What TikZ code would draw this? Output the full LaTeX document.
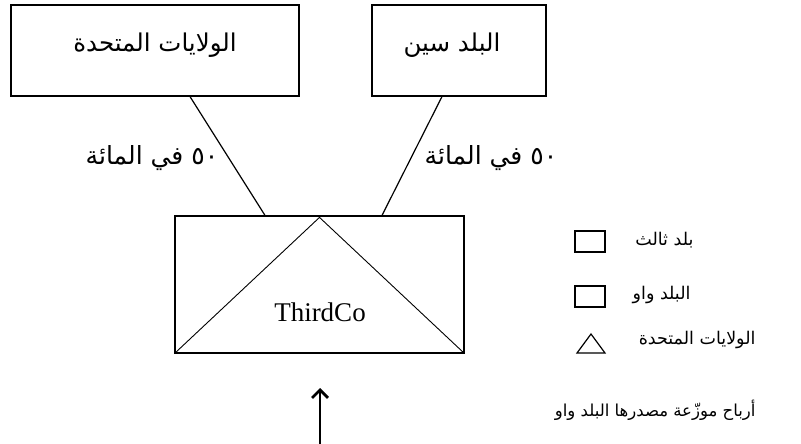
\documentclass[tikz,border=0pt]{standalone}
\usepackage{fontspec}
\usetikzlibrary{arrows.meta}
\setmainfont{Liberation Serif}
\newfontfamily\arabicfont[Script=Arabic]{DejaVu Sans}
\TeXXeTstate=1
\begin{document}
\begin{tikzpicture}[x=1pt,y=-1pt,
  box/.style={draw,line width=1.2pt,inner sep=0pt},
  arbig/.style={font=\arabicfont\fontsize{24.5}{28}\selectfont},
  arpct/.style={font=\arabicfont\fontsize{25}{28}\selectfont},
  ar/.style={font=\arabicfont\fontsize{17.5}{21}\selectfont},
  conn/.style={line width=1.2pt},
  lg/.style={line width=1.2pt}]
\useasboundingbox (0,0) rectangle (801,444);
\node[box,minimum width=288pt,minimum height=91pt] (us) at (155,50.5) {};
\node[arbig] (ustxt) at (155,45) {\beginR الولايات المتحدة\endR};
\node[box,minimum width=174pt,minimum height=91pt] (cx) at (459,50.5) {};
\node[arbig] (cxtxt) at (452,45) {\beginR البلد سين\endR};
\node[box,minimum width=289pt,minimum height=137pt] (tc) at (319.5,284.5) {};
\node[font=\fontsize{27}{30}\selectfont] (tctxt) at (320,312) {ThirdCo};
\draw[line width=0.9pt] (tc.south west) -- ([yshift=-2pt]tc.north) -- (tc.south east);
\draw[conn] ([xshift=35pt]us.south) -- ([xshift=-54.5pt]tc.north);
\draw[conn] ([xshift=-17pt]cx.south) -- ([xshift=62.5pt]tc.north);
\node[arpct] (p1) at (152,158) {\beginR ٥٠ في المائة\endR};
\node[arpct] (p2) at (491,158) {\beginR ٥٠ في المائة\endR};
% legend
\draw[lg] (575,231) rectangle (605,252);
\draw[lg] (575,286) rectangle (605,307);
\draw[lg] (577,353) -- (591,334) -- (605,353) -- cycle;
\node[ar,anchor=east] (l1) at (697,240) {\beginR بلد ثالث\endR};
\node[ar,anchor=east] (l2) at (694,295) {\beginR البلد واو\endR};
\node[ar,anchor=east] (l3) at (759,340) {\beginR الولايات المتحدة\endR};
% arrow
\coordinate (ab) at (320,444);
\coordinate (at) at (320,388);
\draw[line width=2.8pt,-{Straight Barb[length=8pt,width=16pt]}] (ab) -- (at);
\node[font=\arabicfont\fontsize{16.5}{20}\selectfont,anchor=east] (div) at (759,410) {\beginR أرباح موزّعة مصدرها البلد واو\endR};
\end{tikzpicture}
\end{document}
